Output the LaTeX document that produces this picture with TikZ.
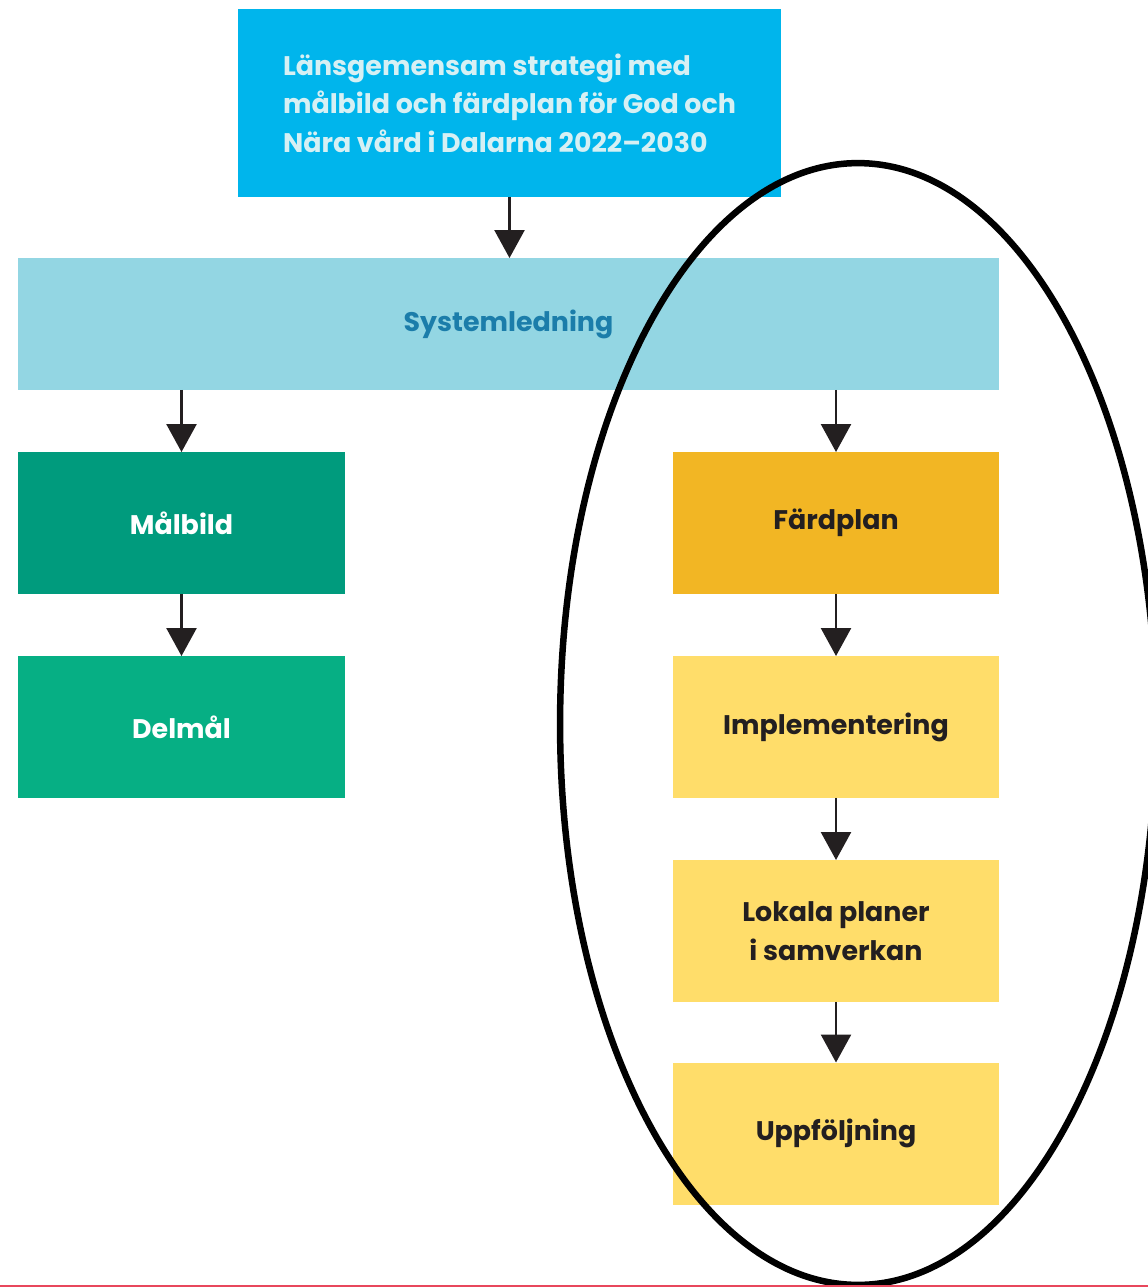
\documentclass[tikz,border=0pt]{standalone}
\usepackage{fontspec}
\setmainfont{Poppins}
\usetikzlibrary{arrows.meta}

\definecolor{strategiblue}{HTML}{00B5EC}
\definecolor{strategitext}{HTML}{D6F0F4}
\definecolor{systemblue}{HTML}{93D6E3}
\definecolor{systemtext}{HTML}{1B7DAA}
\definecolor{malgreen}{HTML}{009B7D}
\definecolor{delgreen}{HTML}{06AF84}
\definecolor{fardorange}{HTML}{F2B624}
\definecolor{planyellow}{HTML}{FFDD6A}
\definecolor{arrowdark}{HTML}{231F20}
\definecolor{edgered}{HTML}{E8475C}

\begin{document}
\begin{tikzpicture}[x=0.02cm,y=-0.02cm,
  box/.style={inner sep=0pt,outer sep=0pt,minimum width=6.54cm,minimum height=2.84cm,
    align=center,font=\fontsize{15.3}{22}\selectfont\bfseries},
  link/.style={draw=arrowdark,line width=0.05cm,-{Triangle[width=0.6cm,length=0.56cm]}}]
\useasboundingbox (0,0) rectangle (1148,1287);

% Top level
\node[box,fill=strategiblue,text=strategitext,minimum width=10.86cm,minimum height=3.76cm,align=left]
  (strategi) at (509.5,103) {Länsgemensam strategi med\\målbild och färdplan för God och\\Nära vård i Dalarna 2022--2030};
\node[box,fill=systemblue,text=systemtext,minimum width=19.62cm,minimum height=2.64cm]
  (system) at (508.5,324) {Systemledning};

% Left column
\node[box,fill=malgreen,text=white] (malbild) at (181.5,523) {Målbild};
\node[box,fill=delgreen,text=white] (delmal) at (181.5,727) {Delmål};

% Right column
\node[box,fill=fardorange,text=arrowdark] (fardplan) at (836,523) {Färdplan};
\node[box,fill=planyellow,text=arrowdark] (impl) at (836,727) {Implementering};
\node[box,fill=planyellow,text=arrowdark] (lokala) at (836,931) {Lokala planer\\i samverkan};
\node[box,fill=planyellow,text=arrowdark] (uppfolj) at (836,1133.5) {Uppföljning};

% Arrows
\draw[link] (strategi.south) -- (system.north -| strategi.south);
\draw[link] (system.south -| malbild.north) -- (malbild.north);
\draw[link] (malbild) -- (delmal);
\draw[link] (system.south -| fardplan.north) -- (fardplan.north);
\draw[link] (fardplan) -- (impl);
\draw[link] (impl) -- (lokala);
\draw[link] (lokala) -- (uppfolj);

% Ring and bottom rule
\draw[line width=0.13cm] (858,724) ellipse [x radius=5.96cm,y radius=11.22cm];
\draw[edgered,line width=0.04cm] (0,1286) -- (1148,1286);
\end{tikzpicture}
\end{document}
